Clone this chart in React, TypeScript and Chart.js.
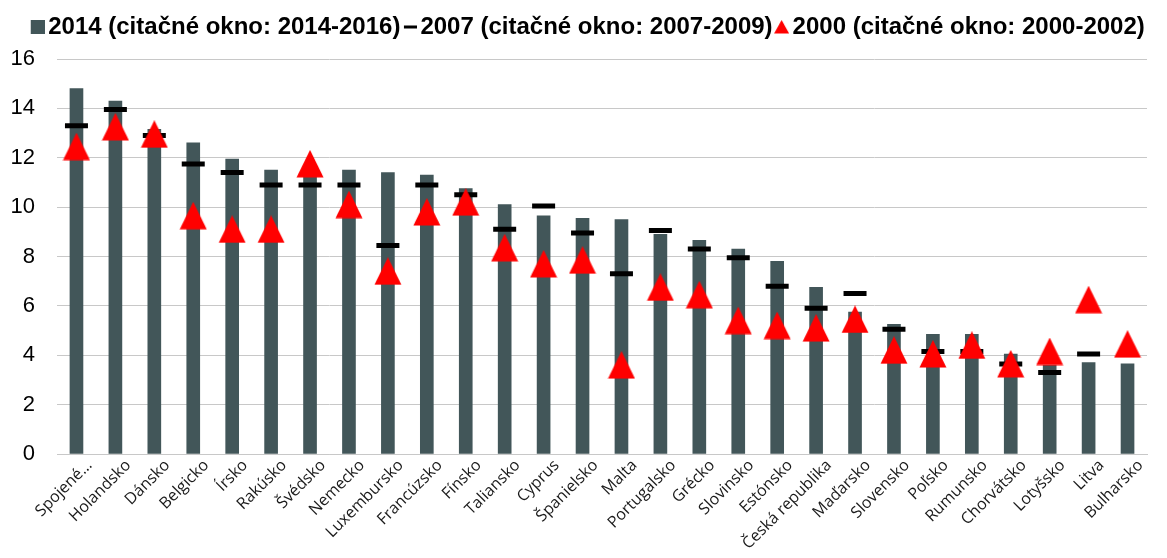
import { useEffect, useRef } from 'react';
import { Chart, registerables } from 'chart.js';

Chart.register(...registerables);

const categories = [
  'Spojené…', 'Holandsko', 'Dánsko', 'Belgicko', 'Írsko', 'Rakúsko', 'Švédsko',
  'Nemecko', 'Luxembursko', 'Francúzsko', 'Fínsko', 'Taliansko', 'Cyprus',
  'Španielsko', 'Malta', 'Portugalsko', 'Grécko', 'Slovinsko', 'Estónsko',
  'Česká republika', 'Maďarsko', 'Slovensko', 'Poľsko', 'Rumunsko', 'Chorvátsko',
  'Lotyšsko', 'Litva', 'Bulharsko',
];

const series2014 = [
  14.8, 14.3, 13.15, 12.6, 11.95, 11.5, 11.4, 11.5, 11.4, 11.3, 10.75, 10.1, 9.65,
  9.55, 9.5, 8.9, 8.65, 8.3, 7.8, 6.75, 5.75, 5.25, 4.85, 4.85, 4.05, 3.6, 3.7, 3.65,
];

const series2007 = [
  13.3, 13.95, 12.9, 11.75, 11.4, 10.9, 10.9, 10.9, 8.45, 10.9, 10.5, 9.1, 10.05,
  8.95, 7.3, 9.05, 8.3, 7.95, 6.8, 5.9, 6.5, 5.05, 4.15, 4.15, 3.65, 3.3, 4.05, null,
];

const series2000 = [
  12.45, 13.25, 12.95, 9.65, 9.1, 9.1, 11.75, 10.1, 7.4, 9.8, 10.2, 8.35, 7.7,
  7.85, 3.6, 6.75, 6.45, 5.4, 5.2, 5.1, 5.45, 4.2, 4.05, 4.4, 3.65, 4.15, 6.25, 4.45,
];

const legendLabels = [
  '2014 (citačné okno: 2014-2016)',
  '2007 (citačné okno: 2007-2009)',
  '2000 (citačné okno: 2000-2002)',
];

const yMin = 0;
const yMax = 16;
const yStep = 2;

const BAR_COLOR = '#425659';
const RED = '#ff0000';

function makeCanvas(w: number, h: number, draw: (ctx: CanvasRenderingContext2D) => void) {
  const c = document.createElement('canvas');
  c.width = w;
  c.height = h;
  const ctx = c.getContext('2d');
  if (ctx) draw(ctx);
  return c;
}

export default function App() {
  const ref = useRef<HTMLCanvasElement>(null);

  useEffect(() => {
    if (!ref.current) return;

    const triangle = makeCanvas(28, 28, (ctx) => {
      ctx.fillStyle = RED;
      ctx.beginPath();
      ctx.moveTo(14, 0);
      ctx.lineTo(27.5, 27.5);
      ctx.lineTo(0.5, 27.5);
      ctx.closePath();
      ctx.fill();
    });
    const legSquare = makeCanvas(18, 14, (ctx) => {
      ctx.fillStyle = BAR_COLOR;
      ctx.fillRect(4, 0, 14, 14);
    });
    const legDash = makeCanvas(18, 4, (ctx) => {
      ctx.fillStyle = '#000';
      ctx.fillRect(5, 0.5, 13, 3);
    });
    const legTri = makeCanvas(18, 14, (ctx) => {
      ctx.fillStyle = RED;
      ctx.beginPath();
      ctx.moveTo(10.5, 0);
      ctx.lineTo(18, 13.5);
      ctx.lineTo(3, 13.5);
      ctx.closePath();
      ctx.fill();
    });
    const legendImages = [legSquare, legDash, legTri];

    const legendTweak = {
      id: 'legendTweak',
      beforeInit(chart: any) {
        const orig = chart.legend.fit;
        chart.legend.fit = function fit() {
          orig.call(this);
          this.height += 10;
        };
      },
      afterLayout(chart: any) {
        chart.legend.left += 12;
        chart.legend.right += 12;
      },
    };

    const chart = new Chart(ref.current, {
      type: 'bar',
      data: {
        labels: categories,
        datasets: [
          {
            type: 'line',
            label: legendLabels[2],
            data: series2000,
            showLine: false,
            pointStyle: triangle as any,
            pointRadius: 14,
            pointHoverRadius: 14,
            order: 0,
          } as any,
          {
            type: 'line',
            label: legendLabels[1],
            data: series2007,
            showLine: false,
            pointStyle: 'line',
            pointRadius: 11.5,
            pointHoverRadius: 11.5,
            pointBorderWidth: 5,
            pointHoverBorderWidth: 5,
            pointBorderColor: '#000',
            pointBackgroundColor: '#000',
            order: 1,
          } as any,
          {
            type: 'bar',
            label: legendLabels[0],
            data: series2014,
            backgroundColor: BAR_COLOR,
            barThickness: 13,
            order: 2,
          } as any,
        ],
      },
      options: {
        animation: false,
        responsive: true,
        maintainAspectRatio: false,
        layout: { autoPadding: false, padding: { left: 1, right: 12, top: 0, bottom: 0 } },
        plugins: {
          tooltip: { enabled: false },
          legend: {
            position: 'top',
            align: 'center',
            labels: {
              usePointStyle: true,
              pointStyleWidth: 1,
              padding: 7,
              color: '#000',
              font: { family: "'Liberation Sans', Arial, sans-serif", size: 24, weight: 'bold' },
              generateLabels: () =>
                legendLabels.map((text, i) => ({
                  text,
                  pointStyle: legendImages[i] as any,
                  fillStyle: 'transparent',
                  strokeStyle: 'transparent',
                  lineWidth: 0,
                  hidden: false,
                  datasetIndex: 2 - i,
                  fontColor: '#000',
                })),
            },
          },
        },
        scales: {
          x: {
            grid: { display: false, drawTicks: false },
            border: { display: true, color: '#c8c8c8', width: 1 },
            afterFit: (scale: any) => {
              scale.paddingLeft = 0;
              scale.paddingRight = 0;
              scale.height = 96;
            },
            ticks: {
              autoSkip: false,
              minRotation: 45,
              maxRotation: 45,
              padding: 2,
              labelOffset: 13,
              color: '#1a1a1a',
              font: { family: "'Open Sans', sans-serif", size: 16 },
            },
          },
          y: {
            min: yMin,
            max: yMax,
            grid: { color: '#c8c8c8', lineWidth: 1, drawTicks: false },
            border: { display: false },
            afterFit: (scale: any) => {
              scale.width = 48;
            },
            ticks: {
              stepSize: yStep,
              padding: 22,
              color: '#000',
              font: { family: "'Liberation Sans', Arial, sans-serif", size: 22 },
            },
          },
        },
      },
      plugins: [legendTweak],
    });

    return () => chart.destroy();
  }, []);

  return (
    <div style={{ position: 'relative', width: '100%', height: 542 }}>
      <canvas ref={ref} />
    </div>
  );
}
